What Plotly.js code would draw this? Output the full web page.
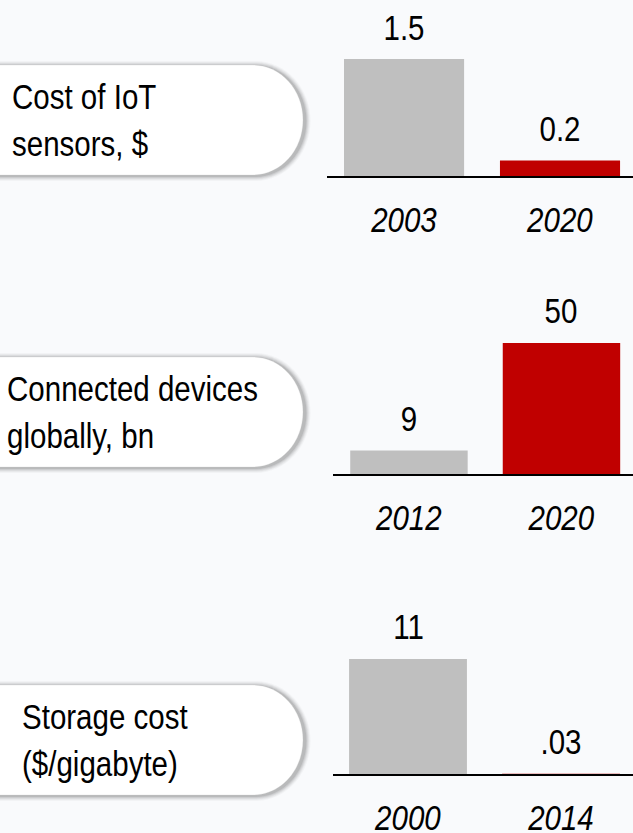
<!DOCTYPE html>
<html>
<head>
<meta charset="utf-8">
<script src="https://cdn.plot.ly/plotly-3.0.1.min.js"></script>
<style>
html,body{margin:0;padding:0;background:#f9fafc;}
#chart{width:633px;height:833px;}
</style>
</head>
<body>
<div id="chart"></div>
<script>
// ---- data ----
const sensorYears = ['2003', '2020'];
const sensorCost = [1.5, 0.2];
const sensorLabels = ['1.5', '0.2'];

const deviceYears = ['2012', '2020'];
const deviceCount = [9, 50];
const deviceLabels = ['9', '50'];

const storageYears = ['2000', '2014'];
const storageCost = [11, 0.03];
const storageLabels = ['11', '.03'];

const panelTitles = [
  'Cost of IoT<br>sensors, $',
  'Connected devices<br>globally, bn',
  'Storage cost<br>($/gigabyte)'
];

// ---- style ----
const W = 633, H = 833;
const GRAY = '#bfbfbf', RED = '#c00000';
const FONT = '"Liberation Sans", Arial, sans-serif';
const NARROW = 0.82;
const px = (x) => x / W;
const py = (y) => 1 - y / H;

const panels = [
  {years: sensorYears, vals: sensorCost, labels: sensorLabels, xa: 'x', ya: 'y',
   xdom: [px(327), 1], ydom: [py(176), py(20)], yr: [0, 2], xr: [-0.494, 1.468]},
  {years: deviceYears, vals: deviceCount, labels: deviceLabels, xa: 'x2', ya: 'y2',
   xdom: [px(333), 1], ydom: [py(474), py(316.8)], yr: [0, 60], xr: [-0.498, 1.469]},
  {years: storageYears, vals: storageCost, labels: storageLabels, xa: 'x3', ya: 'y3',
   xdom: [px(333), 1], ydom: [py(774), py(627.6)], yr: [0, 14], xr: [-0.49, 1.47]}
];

const traces = panels.map(p => ({
  type: 'bar', x: p.years, y: p.vals, xaxis: p.xa, yaxis: p.ya,
  marker: {color: [GRAY, RED]}, hoverinfo: 'skip', showlegend: false
}));

const layout = {
  width: W, height: H,
  margin: {l: 0, r: 0, t: 0, b: 0},
  paper_bgcolor: '#f9fafc', plot_bgcolor: 'rgba(0,0,0,0)',
  bargap: 0.23,
  font: {family: FONT, size: 36, color: '#000'},
  showlegend: false,
  shapes: [], annotations: []
};

panels.forEach((p, i) => {
  const n = i === 0 ? '' : String(i + 1);
  layout['xaxis' + n] = {
    domain: p.xdom, anchor: 'y' + n, type: 'category', range: p.xr,
    showline: true, linecolor: '#000', linewidth: 1.5, showgrid: false, zeroline: false,
    ticks: 'outside', ticklen: 11, tickcolor: 'rgba(0,0,0,0)',
    tickfont: {family: FONT, size: 36, color: '#000', style: 'italic'}, fixedrange: true
  };
  layout['yaxis' + n] = {
    domain: p.ydom, anchor: 'x' + n, range: p.yr, visible: false, fixedrange: true
  };
  // value labels: category axes take the serial index of the category
  p.years.forEach((yr, j) => {
    layout.annotations.push({
      xref: p.xa, yref: p.ya, x: j, y: p.vals[j], text: p.labels[j],
      showarrow: false, yanchor: 'middle', yshift: 32,
      font: {family: FONT, size: 36, color: '#000'}
    });
  });
});

// capsule label boxes
function capsule(top, bottom, right, dx, dy, g) {
  const t = top - g + dy, b = bottom + g + dy, r = right + g + dx, l = -40;
  const rx = 50 + g, ry = (b - t) / 2, k = 0.5523;
  const c = (t + b) / 2;
  const sx = r - rx;
  const pts = [
    `M${px(l)},${py(t)}`,
    `L${px(sx)},${py(t)}`,
    `C${px(sx + rx * k)},${py(t)} ${px(r)},${py(c - ry * k)} ${px(r)},${py(c)}`,
    `C${px(r)},${py(c + ry * k)} ${px(sx + rx * k)},${py(b)} ${px(sx)},${py(b)}`,
    `L${px(l)},${py(b)} Z`
  ];
  return pts.join(' ');
}
const boxes = [
  {top: 65, bottom: 175, tx: 10},
  {top: 357, bottom: 467, tx: 5},
  {top: 685, bottom: 795, tx: 20}
];
boxes.forEach((bx, i) => {
  [[5, 0.035], [4, 0.05], [3, 0.07], [2, 0.09], [1, 0.12]].forEach(([g, a]) => {
    layout.shapes.push({type: 'path', xref: 'paper', yref: 'paper', layer: 'below',
      path: capsule(bx.top, bx.bottom, 303, 2.5, 1, g),
      fillcolor: `rgba(50,50,50,${a})`, line: {width: 0}});
  });
  layout.shapes.push({type: 'path', xref: 'paper', yref: 'paper', layer: 'below',
    path: capsule(bx.top, bx.bottom, 303, 0, 0, 0),
    fillcolor: '#ffffff', line: {color: 'rgba(200,200,200,0.5)', width: 0.5}});
  layout.annotations.push({
    xref: 'paper', yref: 'paper', x: px(bx.tx), y: py((bx.top + bx.bottom) / 2),
    xanchor: 'left', yanchor: 'middle', align: 'left', showarrow: false,
    text: panelTitles[i], font: {family: FONT, size: 36, color: '#000'}
  });
});

// narrow the glyphs horizontally (reference uses a condensed face)
function condense(root, s) {
  root.querySelectorAll('svg text').forEach(t => {
    const bb = t.getBBox();
    if (!bb.width) return;
    const anchor = t.getAttribute('text-anchor') || 'start';
    const ox = anchor === 'middle' ? bb.x + bb.width / 2 : (anchor === 'end' ? bb.x + bb.width : bb.x);
    const oy = bb.y + bb.height / 2;
    const old = t.getAttribute('transform') || '';
    t.setAttribute('transform', `${old} translate(${ox},${oy}) scale(${s},1) translate(${-ox},${-oy})`);
  });
}

const gd = document.getElementById('chart');
Plotly.newPlot(gd, traces, layout, {displayModeBar: false, staticPlot: true})
  .then(() => condense(gd, NARROW));
</script>
</body>
</html>
